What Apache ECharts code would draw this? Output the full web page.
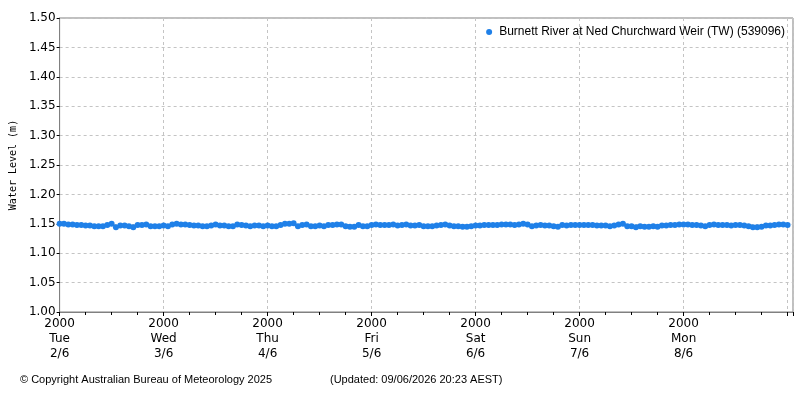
<!DOCTYPE html>
<html><head><meta charset="utf-8">
<script src="https://cdn.jsdelivr.net/npm/echarts@6/dist/echarts.min.js"></script>
<style>html,body{margin:0;padding:0;background:#fff}#c{width:800px;height:400px}</style>
</head><body><div id="c"></div>
<script>
// Hourly readings starting Tue 2/6 20:00 (hour 0)
const seriesName = 'Burnett River at Ned Churchward Weir (TW) (539096)';
const waterLevel = [
1.150,1.150,1.149,1.149,1.148,1.148,1.147,1.147,1.146,1.146,1.146,1.148,1.150,1.144,1.147,1.147,1.146,1.144,1.148,1.148,1.149,1.146,1.146,1.146,
1.147,1.146,1.149,1.150,1.149,1.149,1.148,1.147,1.147,1.146,1.146,1.147,1.149,1.147,1.147,1.146,1.146,1.149,1.148,1.147,1.146,1.147,1.147,1.146,
1.147,1.146,1.146,1.148,1.150,1.150,1.151,1.146,1.148,1.149,1.146,1.146,1.147,1.146,1.148,1.148,1.149,1.149,1.146,1.145,1.145,1.148,1.146,1.146,
1.148,1.149,1.148,1.148,1.148,1.149,1.147,1.148,1.149,1.147,1.147,1.148,1.146,1.146,1.146,1.147,1.148,1.149,1.147,1.146,1.146,1.145,1.145,1.146,
1.147,1.147,1.148,1.148,1.148,1.148,1.149,1.149,1.149,1.148,1.149,1.150,1.149,1.146,1.147,1.148,1.147,1.147,1.146,1.145,1.148,1.147,1.148,1.148,
1.148,1.148,1.148,1.148,1.147,1.147,1.147,1.146,1.147,1.149,1.150,1.146,1.146,1.144,1.146,1.145,1.145,1.146,1.145,1.147,1.147,1.148,1.148,1.149,
1.149,1.149,1.148,1.148,1.147,1.146,1.148,1.149,1.148,1.148,1.148,1.147,1.148,1.148,1.147,1.146,1.144,1.144,1.145,1.147,1.147,1.148,1.149,1.149,
1.148
];
const tickTimes = ['2000','2000','2000','2000','2000','2000','2000'];
const tickDays = ['Tue','Wed','Thu','Fri','Sat','Sun','Mon'];
const tickDates = ['2/6','3/6','4/6','5/6','6/6','7/6','8/6'];
const yMin = 1.00, yMax = 1.50, yStep = 0.05;
const xMaxHours = 169.25;

const data = waterLevel.map((v, i) => [i, v]);
const font = 'DejaVu Sans';
const chart = echarts.init(document.getElementById('c'), null, {renderer: 'canvas'});
chart.setOption({
  animation: false,
  backgroundColor: '#ffffff',
  grid: {left: 58, right: 7, top: 18, bottom: 88, show: true, borderColor: '#808080', borderWidth: 1, backgroundColor: 'transparent'},
  legend: {
    right: 10, top: 21, itemWidth: 6, itemHeight: 6, itemGap: 5, icon: 'circle',
    textStyle: {fontFamily: 'Liberation Sans', fontSize: 12, color: '#000', padding: [0, 0, 0, 2]},
    data: [seriesName]
  },
  xAxis: {
    type: 'value', min: 0, max: xMaxHours, interval: 24,
    axisLine: {show: true, lineStyle: {color: '#808080'}},
    axisTick: {show: true, length: 4, lineStyle: {color: '#000'}},
    minorTick: {show: true, splitNumber: 4, length: 3, lineStyle: {color: '#000'}},
    splitLine: {show: true, lineStyle: {color: '#c4c4c4', type: [3, 3]}},
    axisLabel: {
      fontFamily: font, fontSize: 12, color: '#000', lineHeight: 15, margin: 4,
      showMaxLabel: false,
      formatter: function (v) {
        if (v % 24 !== 0) return '';
        const i = v / 24;
        if (i >= tickDays.length) return '';
        return tickTimes[i] + '\n' + tickDays[i] + '\n' + tickDates[i];
      }
    }
  },
  yAxis: {
    type: 'value', min: yMin, max: yMax, interval: yStep,
    name: 'Water Level (m)', nameLocation: 'middle', nameGap: 37,
    nameTextStyle: {fontFamily: 'DejaVu Sans Mono', fontSize: 10, color: '#000'},
    axisLine: {show: true, lineStyle: {color: '#808080'}},
    axisTick: {show: true, length: 3, lineStyle: {color: '#000'}},
    splitLine: {show: true, lineStyle: {color: '#c4c4c4', type: [3, 3]}},
    axisLabel: {fontFamily: font, fontSize: 12, color: '#000', margin: 4, formatter: v => v.toFixed(2)}
  },
  series: [{
    name: seriesName, type: 'scatter', data: data,
    symbol: 'circle', symbolSize: 6,
    itemStyle: {color: '#1f80e8', opacity: 1}
  }],
  graphic: [
    {type: 'text', left: 20, top: 374, style: {text: '© Copyright Australian Bureau of Meteorology 2025', font: '11px "Liberation Sans"', fill: '#000'}},
    {type: 'text', left: 330, top: 374, style: {text: '(Updated: 09/06/2026 20:23 AEST)', font: '11px "Liberation Sans"', fill: '#000'}}
  ]
});
</script></body></html>
